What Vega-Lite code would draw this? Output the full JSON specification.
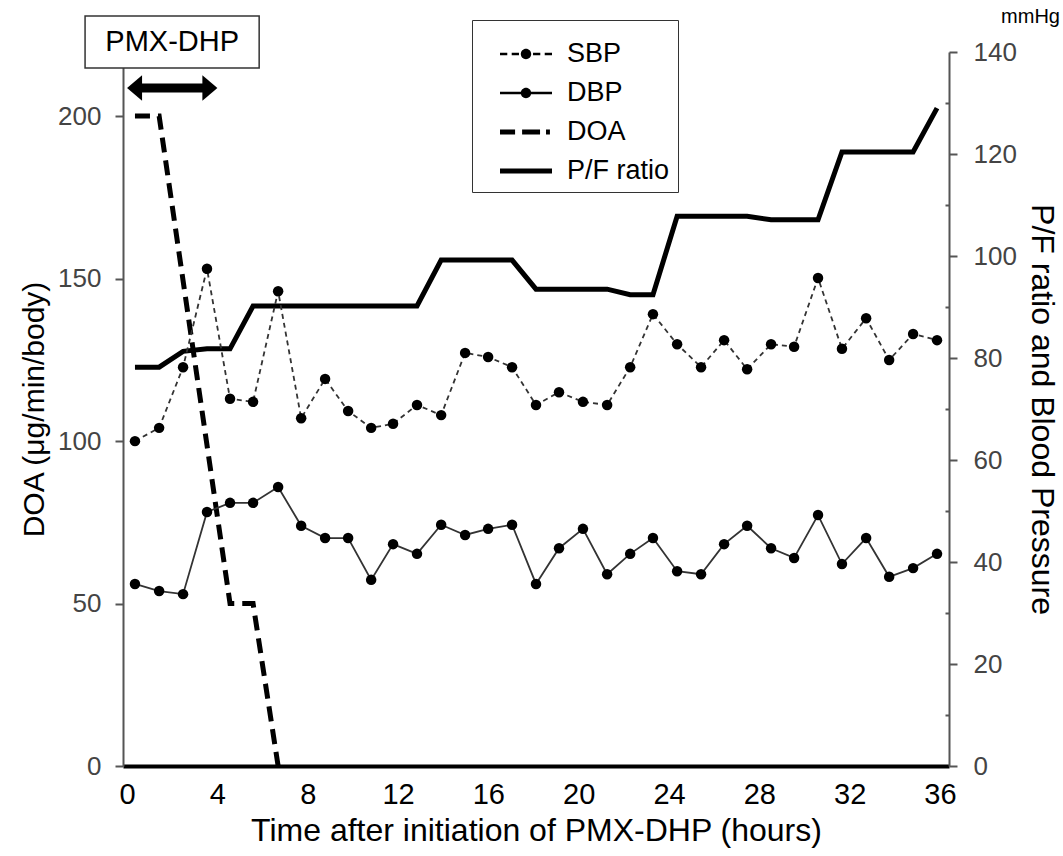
{
  "$schema": "https://vega.github.io/schema/vega-lite/v6.json",
  "width": 826,
  "height": 714,
  "autosize": {"type": "none"},
  "padding": {"left": 123, "top": 52, "right": 114, "bottom": 90},
  "background": "white",
  "config": {"view": {"stroke": null}, "font": "Liberation Sans"},
  "title": {"text": "mmHg", "anchor": "end", "frame": "group", "dx": 111, "dy": 12, "offset": 0, "fontSize": 20, "fontWeight": "normal", "color": "black"},
  "datasets": {
    "bp": [
      {"t": 0.35, "sbp": 63.7, "dbp": 35.7, "pf": 78.2},
      {"t": 1.42, "sbp": 66.3, "dbp": 34.3, "pf": 78.2},
      {"t": 2.48, "sbp": 78.2, "dbp": 33.7, "pf": 81.3},
      {"t": 3.54, "sbp": 97.5, "dbp": 49.8, "pf": 81.8},
      {"t": 4.56, "sbp": 72.0, "dbp": 51.6, "pf": 81.8},
      {"t": 5.58, "sbp": 71.4, "dbp": 51.6, "pf": 90.2},
      {"t": 6.69, "sbp": 93.1, "dbp": 54.7, "pf": 90.2},
      {"t": 7.71, "sbp": 68.2, "dbp": 47.1, "pf": 90.2},
      {"t": 8.77, "sbp": 75.9, "dbp": 44.7, "pf": 90.2},
      {"t": 9.79, "sbp": 69.6, "dbp": 44.7, "pf": 90.2},
      {"t": 10.81, "sbp": 66.3, "dbp": 36.5, "pf": 90.2},
      {"t": 11.78, "sbp": 67.1, "dbp": 43.5, "pf": 90.2},
      {"t": 12.84, "sbp": 70.8, "dbp": 41.6, "pf": 90.2},
      {"t": 13.91, "sbp": 68.8, "dbp": 47.3, "pf": 99.2},
      {"t": 14.97, "sbp": 81.0, "dbp": 45.3, "pf": 99.2},
      {"t": 15.99, "sbp": 80.2, "dbp": 46.5, "pf": 99.2},
      {"t": 17.05, "sbp": 78.2, "dbp": 47.3, "pf": 99.2},
      {"t": 18.11, "sbp": 70.8, "dbp": 35.7, "pf": 93.5},
      {"t": 19.13, "sbp": 73.3, "dbp": 42.7, "pf": 93.5},
      {"t": 20.19, "sbp": 71.4, "dbp": 46.5, "pf": 93.5},
      {"t": 21.26, "sbp": 70.8, "dbp": 37.6, "pf": 93.5},
      {"t": 22.28, "sbp": 78.2, "dbp": 41.6, "pf": 92.4},
      {"t": 23.29, "sbp": 88.6, "dbp": 44.7, "pf": 92.4},
      {"t": 24.36, "sbp": 82.7, "dbp": 38.2, "pf": 107.8},
      {"t": 25.42, "sbp": 78.2, "dbp": 37.6, "pf": 107.8},
      {"t": 26.44, "sbp": 83.5, "dbp": 43.5, "pf": 107.8},
      {"t": 27.46, "sbp": 77.8, "dbp": 47.1, "pf": 107.8},
      {"t": 28.52, "sbp": 82.7, "dbp": 42.7, "pf": 107.1},
      {"t": 29.54, "sbp": 82.2, "dbp": 40.8, "pf": 107.1},
      {"t": 30.60, "sbp": 95.7, "dbp": 49.2, "pf": 107.1},
      {"t": 31.66, "sbp": 81.8, "dbp": 39.6, "pf": 120.4},
      {"t": 32.73, "sbp": 87.8, "dbp": 44.7, "pf": 120.4},
      {"t": 33.75, "sbp": 79.6, "dbp": 37.1, "pf": 120.4},
      {"t": 34.81, "sbp": 84.7, "dbp": 38.8, "pf": 120.4},
      {"t": 35.87, "sbp": 83.5, "dbp": 41.6, "pf": 129.0}
    ],
    "doa": [
      {"t": 0.35, "doa": 200},
      {"t": 1.42, "doa": 200},
      {"t": 4.56, "doa": 50},
      {"t": 5.58, "doa": 50},
      {"t": 6.69, "doa": 0}
    ],
    "pmx": [
      {"treatment": "PMX-DHP", "start": 0, "end": 4}
    ]
  },
  "layer": [
    {
      "layer": [
        {
          "data": {"name": "doa"},
          "mark": {"type": "line", "color": "black", "strokeWidth": 5, "strokeDash": [15, 8]},
          "encoding": {
            "x": {"field": "t", "type": "quantitative",
              "scale": {"domain": [-0.18, 36.4], "nice": false, "zero": false},
              "axis": {"values": [0, 4, 8, 12, 16, 20, 24, 28, 32, 36], "title": "Time after initiation of PMX-DHP (hours)",
                "ticks": false, "grid": false, "domainColor": "black", "domainWidth": 4,
                "labelFontSize": 29, "labelColor": "black", "labelPadding": 14,
                "titleFontSize": 32, "titleFontWeight": "normal", "titleColor": "black", "titlePadding": 6}},
            "y": {"field": "doa", "type": "quantitative",
              "scale": {"domain": [0, 219.7], "nice": false},
              "axis": {"values": [0, 50, 100, 150, 200], "title": "DOA (μg/min/body)", "grid": false,
                "domainColor": "#555", "domainWidth": 2, "tickColor": "#555", "tickWidth": 2, "tickSize": 8,
                "labelFontSize": 26, "labelColor": "#444", "labelPadding": 14,
                "titleFontSize": 30, "titleFontWeight": "normal", "titleColor": "black", "titlePadding": 8}}
          }
        },
        {
          "data": {"name": "pmx"},
          "mark": {"type": "rect", "fill": "white", "stroke": "#333", "strokeWidth": 1.5},
          "encoding": {
            "x": {"datum": -1.86, "type": "quantitative"},
            "x2": {"datum": 5.85},
            "y": {"datum": 214.8, "type": "quantitative"},
            "y2": {"datum": 230.8}
          }
        },
        {
          "data": {"name": "pmx"},
          "mark": {"type": "text", "fontSize": 29, "color": "black", "align": "center", "baseline": "middle"},
          "encoding": {
            "x": {"datum": 2, "type": "quantitative"},
            "y": {"datum": 222.8, "type": "quantitative"},
            "text": {"field": "treatment"}
          }
        },
        {
          "data": {"name": "pmx"},
          "mark": {"type": "rule", "color": "black", "strokeWidth": 9},
          "encoding": {
            "x": {"datum": 0.3, "type": "quantitative"},
            "x2": {"datum": 3.7},
            "y": {"datum": 208.6, "type": "quantitative"}
          }
        },
        {
          "data": {"name": "pmx"},
          "mark": {"type": "point", "filled": true, "color": "black", "opacity": 1, "size": 900, "shape": "M0,0L1,-0.85L1,0.85Z"},
          "encoding": {
            "x": {"field": "start", "type": "quantitative"},
            "y": {"datum": 208.6, "type": "quantitative"}
          }
        },
        {
          "data": {"name": "pmx"},
          "mark": {"type": "point", "filled": true, "color": "black", "opacity": 1, "size": 900, "shape": "M0,0L-1,-0.85L-1,0.85Z"},
          "encoding": {
            "x": {"field": "end", "type": "quantitative"},
            "y": {"datum": 208.6, "type": "quantitative"}
          }
        }
      ]
    },
    {
      "layer": [
        {
          "data": {"name": "bp"},
          "mark": {"type": "line", "color": "black", "strokeWidth": 5},
          "encoding": {
            "x": {"field": "t", "type": "quantitative"},
            "y": {"field": "pf", "type": "quantitative",
              "scale": {"domain": [0, 140], "nice": false},
              "axis": {"orient": "right", "values": [0, 5, 10, 15, 20, 25, 30, 35, 40, 45, 50, 55, 60, 65, 70, 75, 80, 85, 90, 95, 100, 105, 110, 115, 120, 125, 130, 135, 140],
                "labelExpr": "datum.value % 20 === 0 ? datum.label : ''",
                "title": "P/F ratio and Blood Pressure", "grid": false,
                "domainColor": "#555", "domainWidth": 2, "tickColor": "#555", "tickWidth": 2,
                "tickSize": {"condition": {"test": "datum.value % 20 === 0", "value": 8}, "value": -4},
                "labelFontSize": 26, "labelColor": "#444", "labelPadding": 16, "labelOverlap": false,
                "titleFontSize": 32, "titleFontWeight": "normal", "titleColor": "black", "titlePadding": 8}}
          }
        },
        {
          "data": {"name": "bp"},
          "mark": {"type": "line", "color": "#333", "strokeWidth": 1.8, "strokeDash": [5, 4]},
          "encoding": {
            "x": {"field": "t", "type": "quantitative"},
            "y": {"field": "sbp", "type": "quantitative"}
          }
        },
        {
          "data": {"name": "bp"},
          "mark": {"type": "line", "color": "#333", "strokeWidth": 1.8},
          "encoding": {
            "x": {"field": "t", "type": "quantitative"},
            "y": {"field": "dbp", "type": "quantitative"}
          }
        },
        {
          "data": {"name": "bp"},
          "mark": {"type": "point", "filled": true, "color": "black", "opacity": 1, "size": 110},
          "encoding": {
            "x": {"field": "t", "type": "quantitative"},
            "y": {"field": "sbp", "type": "quantitative"}
          }
        },
        {
          "data": {"name": "bp"},
          "mark": {"type": "point", "filled": true, "color": "black", "opacity": 1, "size": 110},
          "encoding": {
            "x": {"field": "t", "type": "quantitative"},
            "y": {"field": "dbp", "type": "quantitative"}
          }
        },
        {
          "data": {"name": "bp"},
          "transform": [{"filter": "false"}],
          "mark": {"type": "point", "filled": true, "color": "black", "opacity": 1, "size": 2704},
          "encoding": {
            "x": {"field": "t", "type": "quantitative"},
            "y": {"field": "sbp", "type": "quantitative"},
            "shape": {"field": "series", "type": "nominal",
              "scale": {"domain": ["SBP", "DBP", "DOA", "P/F ratio"],
                "range": [
                  "M-1,-0.045H-0.72V0.045H-1Z M-0.55,-0.045H-0.27V0.045H-0.55Z M0.27,-0.045H0.55V0.045H0.27Z M0.72,-0.045H1V0.045H0.72Z M-0.2,0A0.2,0.2 0 1,1 0.2,0A0.2,0.2 0 1,1 -0.2,0Z",
                  "M-1,-0.045H1V0.045H-1Z M-0.2,0A0.2,0.2 0 1,1 0.2,0A0.2,0.2 0 1,1 -0.2,0Z",
                  "M-1,-0.1H-0.42V0.1H-1Z M-0.15,-0.1H0.54V0.1H-0.15Z M0.77,-0.1H0.92V0.1H0.77Z",
                  "M-1,-0.1H1V0.1H-1Z"
                ]},
              "legend": {"title": null, "orient": "none", "legendX": 349, "legendY": -32,
                "labelFontSize": 27, "labelColor": "black", "labelFont": "Liberation Sans",
                "labelExpr": "datum.label + '\u00a0\u00a0'",
                "symbolSize": 2704, "symbolStrokeWidth": 0, "symbolFillColor": "black",
                "strokeColor": "#333", "fillColor": "white", "padding": 8, "rowPadding": 0,
                "labelOffset": 15, "symbolOffset": 20}}
          }
        }
      ]
    }
  ],
  "resolve": {"scale": {"y": "independent"}}
}
